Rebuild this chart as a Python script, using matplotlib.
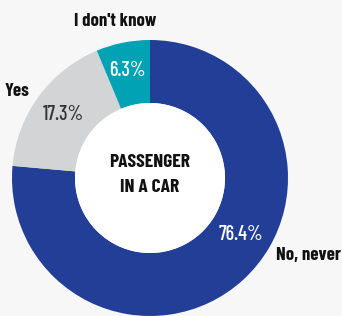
import matplotlib
matplotlib.use("Agg")
from matplotlib import pyplot as plt
from matplotlib.patches import Circle

labels = ["No, never", "Yes", "I don't know"]
shares = [76.4, 17.3, 6.3]
pct_labels = ["76.4%", "17.3%", "6.3%"]
colors = ["#233e96", "#d3d4d6", "#00a2b3"]
center_title = "PASSENGER\nIN A CAR"

plt.rcParams['font.family'] = ['Barlow Condensed', 'Asap Condensed', 'DejaVu Sans']

fig = plt.figure(figsize=(3.42, 3.16), dpi=100, facecolor="#f7f7f7")
ax = fig.add_axes([0, 0, 1, 1])
ax.set_facecolor("#f7f7f7")

# pixel-like coordinates, y up
cx, cy, r_out, r_in = 150, 138, 138, 75
ax.pie(shares, colors=colors, startangle=90, counterclock=False,
       radius=r_out, center=(cx, cy),
       wedgeprops=dict(width=r_out - r_in, linewidth=0), frame=True)
ax.add_patch(Circle((cx, cy), r_in, facecolor="white", edgecolor="none", zorder=3))

ax.set_xlim(0, 342)
ax.set_ylim(0, 316)
ax.set_aspect("equal")
ax.axis("off")

fs = 13.5
pfs = 14.5
# percentages inside the ring
ax.text(241, 82, pct_labels[0], color="white", fontsize=pfs, fontweight="medium", ha="center", va="center", zorder=4)
ax.text(63, 201, pct_labels[1], color="#333333", fontsize=pfs, fontweight="medium", ha="center", va="center", zorder=4)
ax.text(127.5, 246, pct_labels[2], color="white", fontsize=pfs, fontweight="medium", ha="center", va="center", zorder=4)

# category labels outside
ax.text(341, 61, labels[0], color="#111111", fontsize=fs, fontweight="bold", ha="right", va="center")
ax.text(17, 225, labels[1], color="#111111", fontsize=fs, fontweight="bold", ha="center", va="center")
ax.text(115, 294, labels[2], color="#111111", fontsize=fs, fontweight="bold", ha="center", va="center")

ax.text(cx, 141, center_title, color="#111111", fontsize=14, fontweight="bold",
        ha="center", va="center", linespacing=1.55, zorder=4)

fig.savefig("out.png", dpi=100, facecolor=fig.get_facecolor())
